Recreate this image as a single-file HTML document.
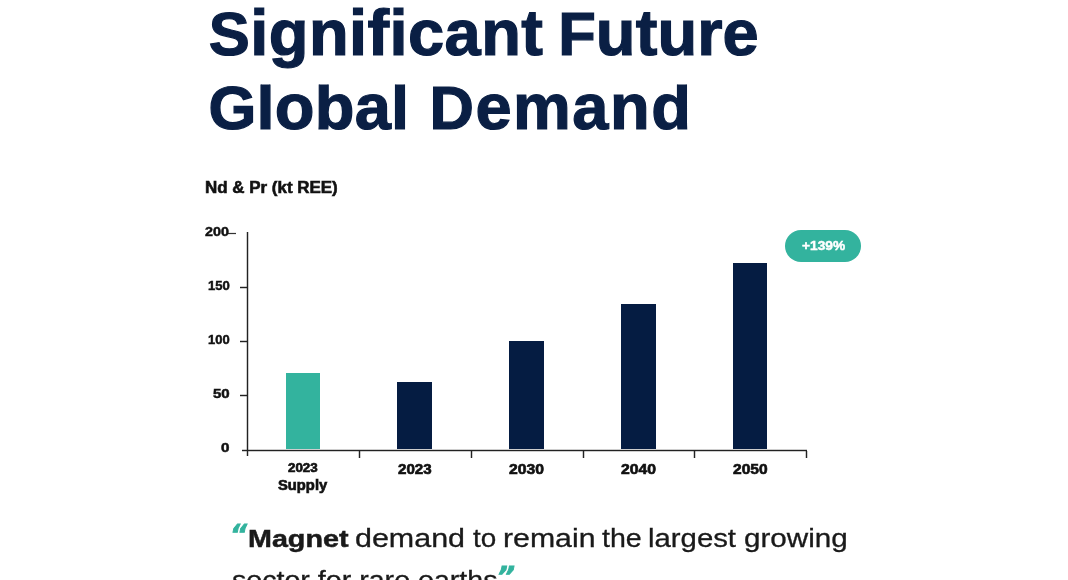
<!DOCTYPE html>
<html lang="en">
<head>
<meta charset="utf-8">
<title>Significant Future Global Demand</title>
<style>
  html, body { margin: 0; padding: 0; background: #ffffff; }
  body { width: 1068px; height: 580px; position: relative; overflow: hidden;
         font-family: "Liberation Sans", sans-serif; color: #111; }
  #page { position: absolute; left: 0; top: 0; width: 1068px; height: 580px; background: #fff; filter: blur(0.45px); }
  header, section, blockquote { display: block; margin: 0; padding: 0; position: static; }
  .abs { position: absolute; white-space: nowrap; line-height: 1; transform-origin: 0 0; }
  .title { font-size: 65px; font-weight: 700; color: #0a1f44;
           -webkit-text-stroke: 1.2px #0a1f44; paint-order: stroke fill; }
  .cap { font-size: 61.5px; }
  .l2 { clip-path: inset(10.8px -20px -30px -20px); }
  .unit { font-size: 15.6px; font-weight: 700; color: #111; -webkit-text-stroke: 0.55px #111; }
  .ylab { font-size: 12px; font-weight: 700; color: #111; -webkit-text-stroke: 0.45px #111; }
  .xlab { font-size: 13.5px; font-weight: 700; color: #111; -webkit-text-stroke: 0.65px #111; }
  .xlab.big { font-size: 14.2px; }
  .xlab.xl { font-size: 14.7px; }
  .xlab.sm { font-size: 12.8px; }
  .v { position: absolute; width: 3px; background: linear-gradient(to right, rgba(30,30,30,.22) 0 1px, #222 1px 2px, rgba(30,30,30,.22) 2px 3px); }
  .h { position: absolute; height: 3px; background: linear-gradient(to bottom, rgba(30,30,30,.22) 0 1px, #222 1px 2px, rgba(30,30,30,.22) 2px 3px); }
  .h.t { background: linear-gradient(to bottom, rgba(30,30,30,.1) 0 1px, #333 1px 2px, rgba(30,30,30,.1) 2px 3px); }
  .bar { position: absolute; background: #051c42; }
  .bar.teal { background: #33b39e; }
  #badge { position: absolute; left: 785px; top: 230px; width: 76px; height: 32px; border-radius: 16px; background: #33b39e; }
  .btxt { color: #fff; font-size: 13.5px; font-weight: 700; -webkit-text-stroke: 0.5px #fff; }
  .quote { font-size: 25px; color: #1a1a1a; -webkit-text-stroke: 0.3px #1a1a1a; }
  .quote.b { font-size: 24px; font-weight: 700; -webkit-text-stroke: 0.5px #1a1a1a; }
  .qm { font-family: "DejaVu Sans", sans-serif; font-weight: 700; font-style: italic; font-size: 26px; color: #33b39e;
        -webkit-text-stroke: 0.9px #33b39e; }
</style>
</head>
<body>
<div id="page">
  <header>
    <div class="abs title" id="t1a" style="left:208.85px; top:0.20px; letter-spacing:0.418px;"><span class="cap">S</span>ignificant</div>
    <div class="abs title" id="t1b" style="left:558.14px; top:0.20px; letter-spacing:0.108px;"><span class="cap">F</span>uture</div>
    <div class="abs title l2" id="t2a" style="left:208.51px; top:73.60px; letter-spacing:0.218px;"><span class="cap">G</span>lobal</div>
    <div class="abs title l2" id="t2b" style="left:429.46px; top:73.60px; letter-spacing:1.501px;"><span class="cap">D</span>emand</div>
  </header>
  <section id="chart">
    <div class="abs unit" id="unit" style="left:204.68px; top:179.70px; transform:scale(1.0868,1.0000);">Nd &amp; Pr (kt REE)</div>
    <!-- axes and ticks -->
    <div class="v" style="left:246px; top:232px; height:224px;"></div>
    <div class="h" style="left:242px; top:449px; width:565px;"></div>
    <div class="h t" style="left:228px; top:232px; width:8px;"></div>
    <div class="h" style="left:240px; top:286px; width:7px;"></div>
    <div class="h" style="left:240px; top:340px; width:7px;"></div>
    <div class="h" style="left:240px; top:394px; width:7px;"></div>
    <div class="v" style="left:358px; top:451px; height:7px;"></div>
    <div class="v" style="left:470px; top:451px; height:7px;"></div>
    <div class="v" style="left:582px; top:451px; height:7px;"></div>
    <div class="v" style="left:693px; top:451px; height:7px;"></div>
    <div class="v" style="left:805px; top:451px; height:7px;"></div>
    <!-- y-axis labels -->
    <div class="abs ylab" id="y200" style="left:205.24px; top:225.80px; transform:scale(1.1906,1.0000);">200</div>
    <div class="abs ylab" id="y150" style="left:207.72px; top:279.80px; transform:scale(1.0896,1.0000);">150</div>
    <div class="abs ylab" id="y100" style="left:208.32px; top:334.10px; transform:scale(1.0789,1.0000);">100</div>
    <div class="abs ylab" id="y50" style="left:212.80px; top:388.30px; transform:scale(1.2525,1.0000);">50</div>
    <div class="abs ylab" id="y0" style="left:220.92px; top:442.30px; transform:scale(1.2672,1.0000);">0</div>
    <!-- bars -->
    <div class="bar teal" style="left:286px; top:373px; width:34px; height:76px;"></div>
    <div class="bar" style="left:397px; top:382px; width:35px; height:67px;"></div>
    <div class="bar" style="left:509px; top:341px; width:35px; height:108px;"></div>
    <div class="bar" style="left:621px; top:304px; width:35px; height:145px;"></div>
    <div class="bar" style="left:733px; top:263px; width:34px; height:186px;"></div>
    <div id="badge">
      <div class="abs btxt" id="btxt" style="left:17.29px; top:9.00px; transform:scale(1.0161,1.0000);">+139%</div>
    </div>
    <!-- x-axis labels -->
    <div class="abs xlab sm" id="x0a" style="left:287.76px; top:462.10px; transform:scale(1.0444,1.0000);">2023</div>
    <div class="abs xlab big" id="x0b" style="left:278.28px; top:478.30px; transform:scale(1.0402,1.0000);">Supply</div>
    <div class="abs xlab xl" id="x1" style="left:398.48px; top:462.00px; transform:scale(1.0298,1.0000);">2023</div>
    <div class="abs xlab xl" id="x2" style="left:509.18px; top:462.00px; transform:scale(1.0697,1.0000);">2030</div>
    <div class="abs xlab xl" id="x3" style="left:620.83px; top:462.00px; transform:scale(1.0738,1.0000);">2040</div>
    <div class="abs xlab xl" id="x4" style="left:732.54px; top:462.00px; transform:scale(1.0586,1.0000);">2050</div>
  </section>
  <blockquote>
    <div class="abs qm" id="qo" style="left:229.80px; top:521.60px; transform:scale(1.0128,1.0000);">“</div>
    <div class="abs quote b" id="q1b" style="left:248.46px; top:527.00px; transform:scale(1.1958,1.0000);">Magnet</div>
    <div class="abs quote" id="w0" style="left:354.59px; top:526.10px; transform:scale(1.2174,1.0000);">demand</div>
    <div class="abs quote" id="w1" style="left:472.66px; top:526.10px; transform:scale(1.1120,1.0000);">to</div>
    <div class="abs quote" id="w2" style="left:502.58px; top:526.10px; transform:scale(1.2101,1.0000);">remain</div>
    <div class="abs quote" id="w3" style="left:602.00px; top:526.10px; transform:scale(1.1421,1.0000);">the</div>
    <div class="abs quote" id="w4" style="left:648.18px; top:526.10px; transform:scale(1.1730,1.0000);">largest</div>
    <div class="abs quote" id="w5" style="left:743.80px; top:526.10px; transform:scale(1.1856,1.0000);">growing</div>
    <div class="abs quote" id="q2" style="left:231.54px; top:567.70px; transform:scale(1.1442,1.0000);">sector for rare earths</div>
    <div class="abs qm" id="qc" style="left:496.53px; top:563.70px; transform:scale(1.0710,1.0000);">”</div>
  </blockquote>
</div>
</body>
</html>
